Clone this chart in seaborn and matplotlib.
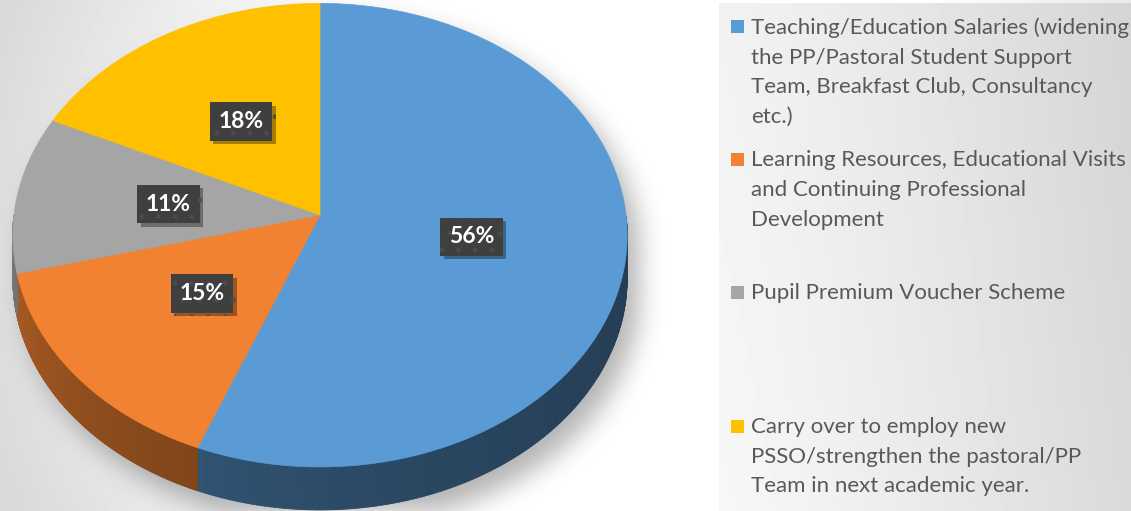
import numpy as np
import matplotlib
matplotlib.use("Agg")
import matplotlib.pyplot as plt
import seaborn as sns
from matplotlib.patches import Polygon, Rectangle
from matplotlib.collections import PolyCollection
from matplotlib.path import Path
import matplotlib.patheffects as pe

# ---------------- data ----------------
categories = [
    "Teaching/Education Salaries (widening\nthe PP/Pastoral Student Support\nTeam, Breakfast Club, Consultancy\netc.)",
    "Learning Resources, Educational Visits\nand Continuing Professional\nDevelopment",
    "Pupil Premium Voucher Scheme",
    "Carry over to employ new\nPSSO/strengthen the pastoral/PP\nTeam in next academic year.",
]
values = [56, 15, 11, 18]
colors = ["#5b9bd5", "#f08232", "#a5a5a5", "#ffc000"]

# ---------------- style ----------------
sns.set_theme(style="white")
plt.rcParams["font.family"] = ["Lato", "DejaVu Sans"]

W, H = 1131, 511
fig = plt.figure(figsize=(W / 100, H / 100), dpi=100)
ax = fig.add_axes([0, 0, 1, 1])

# perspective projection of the unit pie onto pixel coordinates
CX, CY, A, B, K = 320.0, 215.0, 306.0, 230.0, 0.087
DEPTH = 43.0


def project(u, v):
    d = 1 + K * np.asarray(v)
    return CX + A * np.asarray(u) / d, CY - B * np.asarray(v) / d


wedges, _, autotexts = ax.pie(
    values, colors=colors, startangle=90, counterclock=False,
    autopct="%1.0f%%", pctdistance=0.5, radius=1, center=(0, 0),
)

# ---------------- background image ----------------
yy, xx = np.mgrid[0:H, 0:W] + 0.5
d = np.hypot(xx - 640, yy - 250)
bg = 1 - 0.15 * np.clip((d - 380) / 300, 0, 1)

# soft shadow of the pie body
tt = np.linspace(0, 2 * np.pi, 361)
ex, ey = project(np.cos(tt), np.sin(tt))
pts = np.column_stack([xx.ravel() - 12, yy.ravel() - 16])
m1 = Path(np.column_stack([ex, ey])).contains_points(pts)
m2 = Path(np.column_stack([ex, ey + DEPTH])).contains_points(pts)
mask = (m1 | m2).reshape(H, W).astype(float)
sig = 13
kx = np.arange(-3 * sig, 3 * sig + 1)
kern = np.exp(-0.5 * (kx / sig) ** 2)
kern /= kern.sum()
blur = np.apply_along_axis(lambda r: np.convolve(r, kern, mode="same"), 1, mask)
blur = np.apply_along_axis(lambda c: np.convolve(c, kern, mode="same"), 0, blur)
bg = bg * (1 - 0.3 * blur)

# legend panel
px0, py0 = 719, 3
panel = 0.968 - 0.115 * ((xx - px0) / (W - px0)) ** 1.2 - 0.02 * (1 - yy / H)
inpanel = (xx >= px0) & (yy >= py0)
bg = np.where(inpanel, panel, bg)

ax.imshow(bg, cmap="gray", vmin=0, vmax=1, extent=(0, W, H, 0),
          aspect="auto", zorder=0, interpolation="bilinear")

# ---------------- 3D pie ----------------
def shade(t_deg):
    return 0.4 + 0.35 * (np.clip(-t_deg, 0, 180) / 180.0) ** 2

for w in wedges:
    fc = np.array(w.get_facecolor()[:3])
    th = np.linspace(w.theta1, w.theta2, 400)
    rad = np.deg2rad(th)
    # side wall (visible front half)
    vis = np.sin(rad) <= 1e-9
    if vis.sum() > 1:
        tv = th[vis]
        sx, sy = project(np.cos(np.deg2rad(tv)), np.sin(np.deg2rad(tv)))
        polys, cols = [], []
        for i in range(len(tv) - 1):
            polys.append([(sx[i], sy[i]), (sx[i + 1], sy[i + 1]),
                          (sx[i + 1], sy[i + 1] + DEPTH), (sx[i], sy[i] + DEPTH)])
            tm = ((0.5 * (tv[i] + tv[i + 1]) + 180) % 360) - 180
            cols.append(np.clip(fc * shade(tm), 0, 1))
        ax.add_collection(PolyCollection(polys, facecolors=cols, edgecolors=cols,
                                         linewidths=0.6, zorder=2))
    # top face
    tx, ty = project(w.r * np.cos(rad), w.r * np.sin(rad))
    cx, cy = project(w.center[0], w.center[1])
    verts = np.vstack([[cx, cy], np.column_stack([tx, ty])])
    ax.add_patch(Polygon(verts, closed=True, facecolor=fc, edgecolor=fc,
                         linewidth=0.5, zorder=3))
    w.remove()

# percentage labels
for t in autotexts:
    u, v = t.get_position()
    t.set_position(project(u, v))
    t.set_color("white")
    t.set_fontsize(16.5)
    t.set_fontweight("bold")
    t.set_zorder(6)
    t.set_bbox(dict(boxstyle="square,pad=0.38", fc="#3f3f3f", ec="#4c4c4c",
                    lw=0, hatch="."))
    t.get_bbox_patch().set_path_effects(
        [pe.SimplePatchShadow(offset=(2.5, -2.5), shadow_rgbFace="black", alpha=0.35),
         pe.Normal()])

# ---------------- legend ----------------
for i, (lab, c) in enumerate(zip(categories, colors)):
    yc = 26.5 + i * 133.2
    ax.add_patch(Rectangle((731, yc - 6.5), 13, 13, facecolor=c, edgecolor="none", zorder=5))
    ax.text(751, yc - 9.5, lab, ha="left", va="top", fontsize=16,
            color="#595959", linespacing=1.62, zorder=5)

ax.set_xlim(0, W)
ax.set_ylim(H, 0)
ax.set_aspect("auto")
ax.axis("off")

fig.savefig("out.png", dpi=100)
